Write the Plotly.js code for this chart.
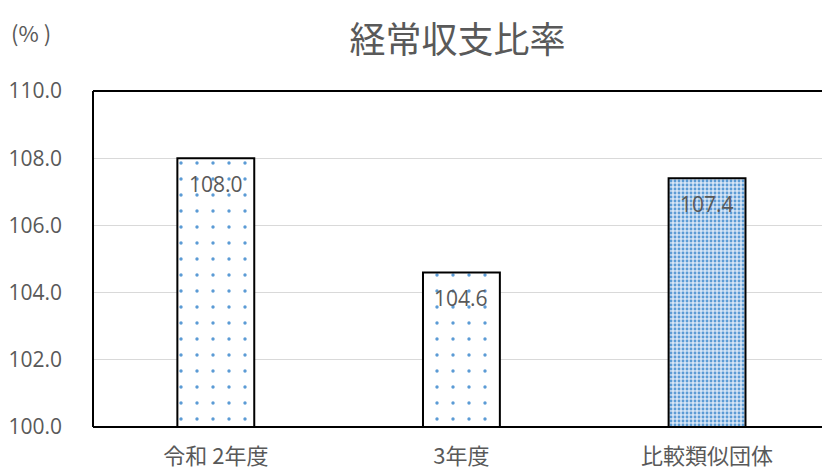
<!DOCTYPE html>
<html><head><meta charset="utf-8">
<script src="https://cdn.plot.ly/plotly-3.0.1.min.js"></script>
<style>html,body{margin:0;padding:0;background:#fff}</style>
</head><body>
<div id="chart" style="width:822px;height:470px"></div>
<script>
const categories = ['令和 2年度', '3年度', '比較類似団体'];
const values = [108.0, 104.6, 107.4];
const yTicks = [100, 102, 104, 106, 108, 110];
const yTickLabels = ['100.0', '102.0', '104.0', '106.0', '108.0', '110.0'];

const font = '"Open Sans", "Noto Sans CJK JP", sans-serif';
const cjk = '"Noto Sans CJK JP", "Open Sans", sans-serif';

const trace = {
  type: 'bar',
  x: categories,
  y: values,
  base: 0,
  width: 0.313,
  marker: {
    color: '#ffffff',
    line: {color: '#000000', width: 2},
    pattern: {
      shape: ['.', '.', '.'],
      fgcolor: ['#5b9bd5', '#5b9bd5', '#5b9bd5'],
      bgcolor: ['#ffffff', '#ffffff', '#d6e5f6'],
      size: [16, 16, 4],
      solidity: [0.035, 0.035, 0.4],
      fillmode: 'replace'
    }
  },
  hoverinfo: 'none'
};

const annotations = categories.map((c, i) => ({
  x: c, y: values[i], xref: 'x', yref: 'y',
  text: values[i].toFixed(1), showarrow: false,
  yanchor: 'middle', yshift: -26,
  font: {family: font, size: 21, color: '#595959'}
}));
annotations.push({
  xref: 'paper', yref: 'paper', x: -0.115, y: 1.175, xanchor: 'left', yanchor: 'middle',
  text: '(% )', showarrow: false, font: {family: cjk, size: 22, color: '#595959'}
});

const layout = {
  width: 822, height: 470,
  margin: {l: 93, r: 0, t: 91, b: 43, pad: 0},
  paper_bgcolor: '#ffffff', plot_bgcolor: '#ffffff',
  showlegend: false,
  title: {text: '経常収支比率', font: {family: cjk, size: 36, color: '#595959'},
          x: 0.5, xanchor: 'center', y: 0.915, yanchor: 'middle', xref: 'paper'},
  xaxis: {
    type: 'category', range: [-0.5, 2.468], showgrid: false, zeroline: false,
    showline: false, ticks: '', tickfont: {family: cjk, size: 22, color: '#595959'},
    ticklabelstandoff: 14
  },
  yaxis: {
    range: [100, 110], tickvals: yTicks, ticktext: yTickLabels,
    showgrid: true, gridcolor: '#d9d9d9', gridwidth: 1.3, zeroline: false,
    showline: false, ticks: '', tickfont: {family: font, size: 21, color: '#595959'},
    ticklabelstandoff: 30
  },
  shapes: [
    {type: 'line', xref: 'paper', yref: 'paper', x0: 0, x1: 1, y0: 1, y1: 1, line: {color: '#000', width: 2}},
    {type: 'line', xref: 'paper', yref: 'paper', x0: 0, x1: 1, y0: 0, y1: 0, line: {color: '#000', width: 2}},
    {type: 'line', xref: 'paper', yref: 'paper', x0: 0, x1: 0, y0: 0, y1: 1, line: {color: '#000', width: 2}}
  ],
  annotations: annotations
};

Plotly.newPlot('chart', [trace], layout, {staticPlot: true, displayModeBar: false});
</script>
</body></html>
